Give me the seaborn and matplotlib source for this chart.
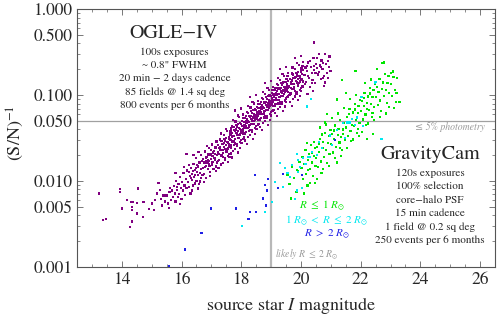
import numpy as np
import pandas as pd
import seaborn as sns
import matplotlib.pyplot as plt
from matplotlib.ticker import FixedLocator, MultipleLocator, LogLocator, NullFormatter

# OGLE-IV events: (source I magnitude, (S/N)^-1)
ogle_pts = [
    (13.23, 0.0072), (13.37, 0.0035), (13.47, 0.0036), (13.93, 0.0081), (13.93, 0.0075), (14.0, 0.0048),
    (14.17, 0.006), (14.53, 0.0082), (14.3, 0.0057), (14.37, 0.0057), (14.5, 0.0056), (14.33, 0.0050),
    (14.33, 0.0046), (14.5, 0.0042), (14.33, 0.0034), (14.27, 0.0029), (14.7, 0.0038), (14.73, 0.0057),
    (14.9, 0.0047), (15.07, 0.0046), (15.17, 0.0072), (15.23, 0.0095), (15.0, 0.0055), (15.12, 0.0061),
    (15.3, 0.0062), (15.4, 0.0068), (15.45, 0.0058), (15.35, 0.0052), (15.28, 0.0079),
    (15.5, 0.0068), (15.55, 0.0055), (15.6, 0.0075), (15.65, 0.0061), (15.58, 0.0049), (15.62, 0.0084),
    # 15.7 - 16.2
    (15.72, 0.0065), (15.75, 0.0088), (15.78, 0.0072), (15.8, 0.0058), (15.82, 0.0101), (15.85, 0.0079),
    (15.88, 0.0066), (15.9, 0.0093), (15.92, 0.0071), (15.95, 0.0112), (15.98, 0.0084), (16.0, 0.0062),
    (16.02, 0.0097), (16.05, 0.0078), (16.07, 0.0124), (16.1, 0.0089), (16.12, 0.0069), (16.15, 0.0105),
    (16.17, 0.0083), (16.19, 0.0133), (15.8, 0.0125), (15.95, 0.0054), (16.08, 0.0147), (15.68, 0.0078),
    (15.86, 0.0085),
    # 16.2 - 16.7
    (16.22, 0.0098), (16.24, 0.0128), (16.26, 0.0085), (16.28, 0.0115), (16.3, 0.0072), (16.32, 0.0142),
    (16.34, 0.0104), (16.36, 0.0121), (16.38, 0.0089), (16.4, 0.0158), (16.42, 0.0112), (16.44, 0.0135),
    (16.46, 0.0094), (16.48, 0.0187), (16.5, 0.0101), (16.52, 0.0129), (16.54, 0.0117), (16.56, 0.0148),
    (16.58, 0.0092), (16.6, 0.0165), (16.62, 0.0124), (16.64, 0.0108), (16.66, 0.0139), (16.68, 0.0172),
    (16.25, 0.0155), (16.35, 0.0078), (16.45, 0.0119), (16.55, 0.0082), (16.65, 0.0201), (16.31, 0.0109),
    (16.51, 0.0155), (16.61, 0.0099), (16.39, 0.0131), (16.49, 0.0142), (16.69, 0.0118), (16.17, 0.0205),
    (16.4, 0.020),
    # 16.7 - 17.2
    (16.71, 0.0142), (16.73, 0.0181), (16.75, 0.0122), (16.77, 0.0165), (16.79, 0.0221), (16.81, 0.0151),
    (16.83, 0.0108), (16.85, 0.0193), (16.87, 0.0162), (16.89, 0.0139), (16.91, 0.0245), (16.93, 0.0171),
    (16.95, 0.0128), (16.97, 0.0204), (16.99, 0.0182), (17.01, 0.0156), (17.03, 0.0267), (17.05, 0.0195),
    (17.07, 0.0138), (17.09, 0.0225), (17.11, 0.0176), (17.13, 0.0209), (17.15, 0.0148), (17.17, 0.0289),
    (17.19, 0.0201), (16.72, 0.0119), (16.78, 0.0145), (16.84, 0.0173), (16.88, 0.0204), (16.94, 0.0149),
    (16.98, 0.0231), (17.04, 0.0168), (17.08, 0.0187), (17.14, 0.0246), (17.18, 0.0165), (16.76, 0.0098),
    (16.86, 0.0255), (16.96, 0.0114), (17.06, 0.0216), (17.16, 0.0131), (16.82, 0.0188), (16.92, 0.0159),
    (17.02, 0.0195), (17.12, 0.0185), (16.9, 0.0178), (16.57, 0.022),
    # 17.2 - 17.7
    (17.21, 0.0215), (17.23, 0.0262), (17.25, 0.0178), (17.27, 0.0241), (17.29, 0.0305), (17.31, 0.0199),
    (17.33, 0.0156), (17.35, 0.0271), (17.37, 0.0232), (17.39, 0.0189), (17.41, 0.0342), (17.43, 0.0251),
    (17.45, 0.0178), (17.47, 0.0295), (17.49, 0.0264), (17.51, 0.0221), (17.53, 0.0381), (17.55, 0.0282),
    (17.57, 0.0196), (17.59, 0.0322), (17.61, 0.0255), (17.63, 0.0301), (17.65, 0.0214), (17.67, 0.0412),
    (17.69, 0.0291), (17.22, 0.0172), (17.26, 0.0209), (17.3, 0.0252), (17.34, 0.0295), (17.38, 0.0214),
    (17.42, 0.0275), (17.46, 0.0239), (17.5, 0.0318), (17.54, 0.0236), (17.58, 0.0271), (17.62, 0.0348),
    (17.66, 0.0245), (17.24, 0.0141), (17.32, 0.0358), (17.4, 0.0164), (17.48, 0.0401), (17.56, 0.0168),
    (17.64, 0.0262), (17.28, 0.0228), (17.36, 0.0201), (17.44, 0.0311), (17.52, 0.0285), (17.6, 0.0208),
    (17.68, 0.0335), (17.33, 0.0232), (17.47, 0.0186), (17.57, 0.0245), (17.65, 0.0375), (17.39, 0.0268),
    (17.61, 0.0191),
    # 17.6 - 18.1
    (17.61, 0.0312), (17.63, 0.0378), (17.65, 0.0258), (17.67, 0.0349), (17.69, 0.0441), (17.71, 0.0289),
    (17.73, 0.0225), (17.75, 0.0392), (17.77, 0.0336), (17.79, 0.0274), (17.81, 0.0495), (17.83, 0.0362),
    (17.85, 0.0258), (17.87, 0.0428), (17.89, 0.0381), (17.91, 0.0321), (17.93, 0.0552), (17.95, 0.0408),
    (17.97, 0.0285), (17.99, 0.0466), (18.01, 0.0369), (18.03, 0.0436), (18.05, 0.0311), (18.07, 0.0596),
    (18.09, 0.0422), (17.62, 0.0248), (17.66, 0.0302), (17.7, 0.0365), (17.74, 0.0428), (17.78, 0.0309),
    (17.82, 0.0398), (17.86, 0.0346), (17.9, 0.0461), (17.94, 0.0342), (17.98, 0.0392), (18.02, 0.0505),
    (18.06, 0.0355), (17.64, 0.0205), (17.72, 0.0518), (17.8, 0.0237), (17.88, 0.0581), (17.96, 0.0243),
    (18.04, 0.0379), (17.68, 0.0331), (17.76, 0.0291), (17.84, 0.0451), (17.92, 0.0412), (18.0, 0.0301),
    (18.08, 0.0485), (17.73, 0.0336), (17.87, 0.0269), (17.97, 0.0355), (18.05, 0.0543), (17.79, 0.0388),
    (18.01, 0.0276), (17.65, 0.0395), (17.75, 0.0262), (17.85, 0.0365), (17.95, 0.0471), (18.05, 0.0401),
    (17.7, 0.0188), (17.9, 0.0215), (17.8, 0.0662), (18.0, 0.0699), (18.08, 0.0322),
    # 18.1 - 18.6
    (18.11, 0.0452), (18.13, 0.0548), (18.15, 0.0374), (18.17, 0.0506), (18.19, 0.0639), (18.21, 0.0419),
    (18.23, 0.0326), (18.25, 0.0568), (18.27, 0.0487), (18.29, 0.0397), (18.31, 0.0718), (18.33, 0.0525),
    (18.35, 0.0374), (18.37, 0.0621), (18.39, 0.0552), (18.41, 0.0465), (18.43, 0.0800), (18.45, 0.0592),
    (18.47, 0.0413), (18.49, 0.0676), (18.51, 0.0535), (18.53, 0.0632), (18.55, 0.0451), (18.57, 0.0864),
    (18.59, 0.0612), (18.12, 0.0359), (18.16, 0.0438), (18.2, 0.0529), (18.24, 0.0621), (18.28, 0.0448),
    (18.32, 0.0577), (18.36, 0.0502), (18.4, 0.0668), (18.44, 0.0496), (18.48, 0.0568), (18.52, 0.0732),
    (18.56, 0.0515), (18.14, 0.0297), (18.22, 0.0751), (18.3, 0.0344), (18.38, 0.0842), (18.46, 0.0352),
    (18.54, 0.0549), (18.18, 0.0480), (18.26, 0.0422), (18.34, 0.0654), (18.42, 0.0597), (18.5, 0.0436),
    (18.58, 0.0703), (18.23, 0.0487), (18.37, 0.0390), (18.47, 0.0515), (18.55, 0.0787), (18.29, 0.0563),
    (18.51, 0.0400), (18.15, 0.0573), (18.25, 0.0380), (18.35, 0.0529), (18.45, 0.0683), (18.55, 0.0581),
    (18.2, 0.0273), (18.4, 0.0312), (18.3, 0.0960), (18.5, 0.1014), (18.58, 0.0467), (18.13, 0.0415),
    (18.33, 0.0462), (18.43, 0.0538), (18.53, 0.0608), (18.22, 0.0496),
    # 18.6 - 19.1
    (18.61, 0.0655), (18.63, 0.0795), (18.65, 0.0542), (18.67, 0.0734), (18.69, 0.0927), (18.71, 0.0608),
    (18.73, 0.0473), (18.75, 0.0824), (18.77, 0.0706), (18.79, 0.0576), (18.81, 0.1041), (18.83, 0.0761),
    (18.85, 0.0542), (18.87, 0.0900), (18.89, 0.0800), (18.91, 0.0674), (18.93, 0.1160), (18.95, 0.0858),
    (18.97, 0.0599), (18.99, 0.0980), (19.01, 0.0776), (19.03, 0.0916), (19.05, 0.0654), (19.07, 0.1253),
    (19.09, 0.0887), (18.62, 0.0521), (18.66, 0.0635), (18.7, 0.0767), (18.74, 0.0900), (18.78, 0.0650),
    (18.82, 0.0837), (18.86, 0.0728), (18.9, 0.0969), (18.94, 0.0719), (18.98, 0.0824), (19.02, 0.1061),
    (19.06, 0.0747), (18.64, 0.0431), (18.72, 0.1089), (18.8, 0.0499), (18.88, 0.1221), (18.96, 0.0510),
    (19.04, 0.0796), (18.68, 0.0696), (18.76, 0.0612), (18.84, 0.0948), (18.92, 0.0866), (19.0, 0.0632),
    (19.08, 0.1019), (18.73, 0.0706), (18.87, 0.0566), (18.97, 0.0747), (19.05, 0.1141), (18.79, 0.0816),
    (19.01, 0.0580), (18.65, 0.0831), (18.75, 0.0551), (18.85, 0.0767), (18.95, 0.0990), (19.05, 0.0842),
    (18.7, 0.0396), (18.9, 0.0452), (18.8, 0.1392), (19.0, 0.1470), (19.08, 0.0677), (18.63, 0.0602),
    (18.83, 0.0670), (18.93, 0.0780), (19.03, 0.0882), (18.72, 0.0719),
    # 19.1 - 19.6
    (19.11, 0.0950), (19.13, 0.1153), (19.15, 0.0786), (19.17, 0.1064), (19.19, 0.1344), (19.21, 0.0882),
    (19.23, 0.0686), (19.25, 0.1195), (19.27, 0.1024), (19.29, 0.0835), (19.31, 0.1509), (19.33, 0.1103),
    (19.35, 0.0786), (19.37, 0.1305), (19.39, 0.1160), (19.41, 0.0977), (19.43, 0.1682), (19.45, 0.1244),
    (19.47, 0.0869), (19.49, 0.1421), (19.51, 0.1125), (19.53, 0.1328), (19.55, 0.0948), (19.57, 0.1817),
    (19.59, 0.1286), (19.12, 0.0755), (19.16, 0.0921), (19.2, 0.1112), (19.24, 0.1305), (19.28, 0.0943),
    (19.32, 0.1214), (19.36, 0.1056), (19.4, 0.1405), (19.44, 0.1043), (19.48, 0.1195), (19.52, 0.1538),
    (19.56, 0.1083), (19.14, 0.0625), (19.22, 0.1579), (19.3, 0.0724), (19.38, 0.1770), (19.46, 0.0740),
    (19.54, 0.1154), (19.18, 0.1009), (19.26, 0.0887), (19.34, 0.1375), (19.42, 0.1256), (19.5, 0.0916),
    (19.58, 0.1478), (19.23, 0.1024), (19.37, 0.0821), (19.47, 0.1083), (19.55, 0.1654), (19.29, 0.1183),
    (19.51, 0.0841), (19.15, 0.1205), (19.25, 0.0799), (19.35, 0.1112), (19.45, 0.1436), (19.55, 0.1221),
    (19.2, 0.0574), (19.4, 0.0655), (19.3, 0.2018), (19.5, 0.2132), (19.58, 0.0982), (19.13, 0.0873),
    (19.33, 0.0972), (19.43, 0.1131), (19.53, 0.1279), (19.22, 0.1043),
    # 19.6 - 20.1
    (19.61, 0.1264), (19.63, 0.1534), (19.65, 0.1045), (19.67, 0.1415), (19.69, 0.1788), (19.71, 0.1173),
    (19.73, 0.0912), (19.75, 0.1589), (19.77, 0.1362), (19.79, 0.1111), (19.81, 0.2007), (19.83, 0.1467),
    (19.85, 0.1045), (19.87, 0.1736), (19.89, 0.1543), (19.91, 0.1299), (19.93, 0.2237), (19.95, 0.1655),
    (19.97, 0.1156), (19.99, 0.1890), (20.01, 0.1496), (20.03, 0.1766), (20.05, 0.1261), (20.07, 0.2417),
    (20.09, 0.1710), (19.62, 0.1004), (19.66, 0.1225), (19.7, 0.1479), (19.74, 0.1736), (19.78, 0.1254),
    (19.82, 0.1615), (19.86, 0.1404), (19.9, 0.1869), (19.94, 0.1387), (19.98, 0.1589), (20.02, 0.2046),
    (20.06, 0.1440), (19.64, 0.0831), (19.72, 0.2100), (19.8, 0.0963), (19.88, 0.2354), (19.96, 0.0984),
    (20.04, 0.1535), (19.68, 0.1342), (19.76, 0.1180), (19.84, 0.1829), (19.92, 0.1670), (20.0, 0.1218),
    (20.08, 0.1966), (19.73, 0.1362), (19.87, 0.1092), (19.97, 0.1440), (20.05, 0.2200), (19.79, 0.1573),
    (20.01, 0.1119), (19.7, 0.0752), (19.9, 0.0871), (19.8, 0.2684), (20.0, 0.2835),
    # 20.1 - 21.0
    (20.12, 0.1712), (20.15, 0.2101), (20.18, 0.1432), (20.21, 0.1905), (20.24, 0.2398), (20.27, 0.1587),
    (20.3, 0.1234), (20.33, 0.2127), (20.36, 0.1822), (20.39, 0.1486), (20.42, 0.2686), (20.45, 0.1963),
    (20.48, 0.1398), (20.51, 0.2322), (20.54, 0.2064), (20.57, 0.1738), (20.6, 0.2993), (20.63, 0.2214),
    (20.66, 0.1547), (20.69, 0.2529), (20.72, 0.2001), (20.75, 0.2363), (20.78, 0.1687), (20.81, 0.3018),
    (20.84, 0.2288), (20.87, 0.1812), (20.9, 0.2498), (20.93, 0.2135), (20.96, 0.2812), (20.99, 0.1903),
    (20.13, 0.1343), (20.19, 0.2205), (20.25, 0.1689), (20.31, 0.2518), (20.37, 0.1399), (20.43, 0.2201),
    (20.49, 0.1812), (20.55, 0.2735), (20.61, 0.1876), (20.67, 0.2121), (20.73, 0.1601), (20.43, 0.4100),
    (20.76, 0.1281), (20.91, 0.1584), (20.8, 0.1402), (20.4, 0.1121), (20.22, 0.1035),
]

# GravityCam events, R <= 1 Rsun
gc_small_pts = [
    (19.55, 0.0118), (19.62, 0.0092), (19.7, 0.0145), (19.78, 0.0108), (19.85, 0.0075), (19.9, 0.0131),
    (19.95, 0.0168), (19.68, 0.0063), (19.87, 0.0135),
    (20.02, 0.0142), (20.05, 0.0189), (20.08, 0.0105), (20.12, 0.0158), (20.15, 0.0232), (20.18, 0.0122),
    (20.22, 0.0089), (20.25, 0.0176), (20.28, 0.0208), (20.31, 0.0137), (20.34, 0.0261), (20.37, 0.0165),
    (20.4, 0.0114), (20.43, 0.0198), (20.46, 0.0241), (20.49, 0.0151), (20.1, 0.0072), (20.3, 0.0095),
    (20.2, 0.0280), (20.45, 0.0286), (20.38, 0.0215), (20.24, 0.0134), (20.47, 0.0095),
    (20.51, 0.0185), (20.54, 0.0252), (20.57, 0.0145), (20.6, 0.0218), (20.63, 0.0312), (20.66, 0.0169),
    (20.69, 0.0124), (20.72, 0.0243), (20.75, 0.0286), (20.78, 0.0191), (20.81, 0.0362), (20.84, 0.0229),
    (20.87, 0.0162), (20.9, 0.0275), (20.93, 0.0334), (20.96, 0.0209), (20.99, 0.0395), (20.55, 0.0105),
    (20.65, 0.0421), (20.75, 0.0138), (20.85, 0.0455), (20.95, 0.0151), (20.6, 0.0268), (20.8, 0.0480),
    (20.7, 0.0348), (20.88, 0.0601),
    (21.02, 0.0271), (21.05, 0.0355), (21.08, 0.0215), (21.11, 0.0312), (21.14, 0.0445), (21.17, 0.0248),
    (21.2, 0.0165), (21.23, 0.0341), (21.26, 0.0402), (21.29, 0.0281), (21.32, 0.0512), (21.35, 0.0329),
    (21.38, 0.0231), (21.41, 0.0398), (21.44, 0.0478), (21.47, 0.0302), (21.03, 0.0545), (21.13, 0.0185),
    (21.23, 0.0612), (21.33, 0.0198), (21.43, 0.0702), (21.1, 0.0388), (21.3, 0.0245), (21.4, 0.0355),
    (21.37, 0.149), (21.22, 0.0892),
    (21.51, 0.0421), (21.54, 0.0552), (21.57, 0.0338), (21.6, 0.0489), (21.63, 0.0695), (21.66, 0.0385),
    (21.69, 0.0291), (21.72, 0.0531), (21.75, 0.0628), (21.78, 0.0441), (21.81, 0.0798), (21.84, 0.0512),
    (21.87, 0.0362), (21.9, 0.0621), (21.93, 0.0745), (21.96, 0.0471), (21.99, 0.0885), (21.55, 0.0245),
    (21.65, 0.0912), (21.75, 0.0305), (21.85, 0.0998), (21.95, 0.0335), (21.6, 0.0598), (21.7, 0.0452),
    (21.8, 0.0681), (21.9, 0.0403), (21.83, 0.19), (21.52, 0.1052),
    (22.01, 0.0652), (22.04, 0.0851), (22.07, 0.0521), (22.1, 0.0752), (22.13, 0.1065), (22.16, 0.0595),
    (22.19, 0.0448), (22.22, 0.0815), (22.25, 0.0965), (22.28, 0.0678), (22.31, 0.1221), (22.34, 0.0785),
    (22.37, 0.0558), (22.4, 0.0952), (22.43, 0.1142), (22.46, 0.0724), (22.49, 0.1352), (22.05, 0.0375),
    (22.15, 0.1398), (22.25, 0.0468), (22.35, 0.1525), (22.45, 0.0512), (22.1, 0.0921), (22.2, 0.0695),
    (22.3, 0.1045), (22.4, 0.0618), (22.2, 0.0312), (22.42, 0.0355),
    (22.51, 0.0952), (22.54, 0.1241), (22.57, 0.0761), (22.6, 0.1098), (22.63, 0.1552), (22.66, 0.0868),
    (22.69, 0.0655), (22.72, 0.1189), (22.75, 0.1408), (22.78, 0.0989), (22.81, 0.1782), (22.84, 0.1145),
    (22.87, 0.0815), (22.9, 0.1389), (22.93, 0.1665), (22.96, 0.1056), (22.73, 0.235), (22.77, 0.24),
    (22.55, 0.2001), (22.65, 0.0552), (22.85, 0.0612), (22.95, 0.0725),
    (23.02, 0.1352), (23.06, 0.0985), (23.1, 0.1612), (23.14, 0.1152), (23.18, 0.0825), (23.23, 0.157),
    (23.3, 0.083), (23.08, 0.1885), (23.2, 0.1052), (23.12, 0.0702), (23.03, 0.18),
]

# GravityCam events, 1 Rsun < R <= 2 Rsun
gc_mid_pts = [
    (19.3, 0.0162), (19.87, 0.0205), (19.63, 0.0111), (19.13, 0.0098), (19.03, 0.0057), (20.03, 0.0083),
    (19.8, 0.0062), (19.47, 0.0141), (19.7, 0.0154), (19.97, 0.0146), (20.07, 0.0185), (20.3, 0.0189),
    (19.9, 0.0127), (19.87, 0.0078), (18.8, 0.0044), (19.9, 0.0175), (20.23, 0.0190), (20.37, 0.0217),
    (20.7, 0.0245), (20.97, 0.034), (21.53, 0.048), (21.47, 0.032), (21.87, 0.055), (22.47, 0.138),
    (21.63, 0.048), (21.4, 0.047), (22.07, 0.044), (22.7, 0.031), (21.8, 0.045), (21.2, 0.039),
    (21.7, 0.053), (22.03, 0.095), (20.33, 0.09), (20.2, 0.074), (22.5, 0.142), (18.03, 0.0030),
    (19.55, 0.0125), (20.15, 0.0160), (20.55, 0.0200), (19.4, 0.0085), (20.6, 0.0285), (21.05, 0.0265),
]

# GravityCam events, R > 2 Rsun
gc_big_pts = [
    (17.0, 0.0048), (17.83, 0.0048), (18.27, 0.0036), (16.67, 0.0025), (16.13, 0.0016), (15.57, 0.00102),
    (18.8, 0.0090), (18.87, 0.0078), (18.83, 0.0052), (19.23, 0.0083), (18.73, 0.0063), (18.3, 0.0044),
    (18.5, 0.0044), (18.23, 0.0036), (18.47, 0.0117), (19.4, 0.0120), (20.03, 0.0117), (21.13, 0.030),
    (18.9, 0.0105),
]

groups = ["OGLE", "R1", "R2", "R3"]
colors = ["#800080", "#00e600", "#00e8f0", "#1f1fe6"]

frames = []
for name, pts in zip(groups, [ogle_pts, gc_small_pts, gc_mid_pts, gc_big_pts]):
    mag, sn = zip(*pts)
    frames.append(pd.DataFrame({"mag": mag, "sn": sn, "group": name}))
df = pd.concat(frames, ignore_index=True)

sns.set_style("ticks")
plt.rcParams["font.family"] = ["STIXGeneral", "DejaVu Serif"]
plt.rcParams["mathtext.fontset"] = "stix"

fig = plt.figure(figsize=(5, 3.18), dpi=100)
ax = fig.add_axes([0.154, 0.160, 0.836, 0.811])

ax.axvline(19, color="#b8b8b8", lw=1.6, zorder=1)
ax.axhline(0.05, color="#a0a0a0", lw=0.9, zorder=1)

sns.scatterplot(data=df, x="mag", y="sn", hue="group", palette=dict(zip(groups, colors)),
                marker="s", s=2.5, linewidth=0, legend=False, ax=ax, zorder=2)

ax.set_yscale("log")
ax.set_xlim(12.5, 26.5)
ax.set_ylim(0.001, 1.0)

yticks = [0.001, 0.005, 0.010, 0.050, 0.100, 0.500, 1.000]
ax.yaxis.set_major_locator(FixedLocator(yticks))
ax.set_yticklabels([f"{v:.3f}" for v in yticks])
ax.yaxis.set_minor_locator(LogLocator(base=10, subs=(2, 3, 4, 6, 7, 8, 9)))
ax.yaxis.set_minor_formatter(NullFormatter())
ax.xaxis.set_major_locator(MultipleLocator(2))
ax.xaxis.set_minor_locator(MultipleLocator(0.5))

for sp in ax.spines.values():
    sp.set_color("#555555")
    sp.set_linewidth(0.8)
ax.tick_params(which="both", direction="in", top=True, right=True, color="#777777", labelsize=12.5)
ax.tick_params(which="major", length=4, width=0.7)
ax.tick_params(which="minor", length=2.5, width=0.6)

ax.set_xlabel("source star $I$ magnitude", fontsize=13, va="center", ha="center")
ax.set_ylabel("(S/N)$^{-1}$", fontsize=13, va="center", ha="center")
ax.xaxis.set_label_coords(0.512, -0.147)
ax.yaxis.set_label_coords(-0.148, 0.52)

# OGLE-IV block
ax.text(0.232, 0.907, "OGLE−IV", transform=ax.transAxes, ha="center", va="center", fontsize=14.5)
ogle_lines = ["100s exposures", '~ 0.8" FWHM', "20 min − 2 days cadence",
              "85 fields @ 1.4 sq deg", "800 events per 6 months"]
for i, line in enumerate(ogle_lines):
    ax.text(0.234, 0.833 - i * 0.051, line, transform=ax.transAxes, ha="center", va="center", fontsize=8)

# GravityCam block
ax.text(0.845, 0.438, "GravityCam", transform=ax.transAxes, ha="center", va="center", fontsize=14.5)
gc_lines = ["120s exposures", "100% selection", "core−halo PSF", "15 min cadence",
            "1 field @ 0.2 sq deg", "250 events per 6 months"]
for i, line in enumerate(gc_lines):
    ax.text(0.845, 0.364 - i * 0.0518, line, transform=ax.transAxes, ha="center", va="center", fontsize=8)

# radius key
ax.text(0.586, 0.236, r"$R\ \leq\ 1\ R_{\odot}$", transform=ax.transAxes, ha="center", va="center",
        fontsize=8, color=colors[1])
ax.text(0.598, 0.178, r"$1\ R_{\odot}\ <\ R\ \leq\ 2\ R_{\odot}$", transform=ax.transAxes, ha="center",
        va="center", fontsize=8, color=colors[2])
ax.text(0.598, 0.128, r"$R\ >\ 2\ R_{\odot}$", transform=ax.transAxes, ha="center", va="center",
        fontsize=8, color=colors[3])

ax.text(0.474, 0.047, r"likely $R\ \leq\ 2\ R_{\odot}$", transform=ax.transAxes, ha="left", va="center",
        fontsize=7, color="#999999", style="italic")
ax.text(0.976, 0.543, "≤ 5% photometry", transform=ax.transAxes, ha="right", va="center",
        fontsize=7, color="#999999", style="italic")

fig.savefig("out.png", dpi=100)
